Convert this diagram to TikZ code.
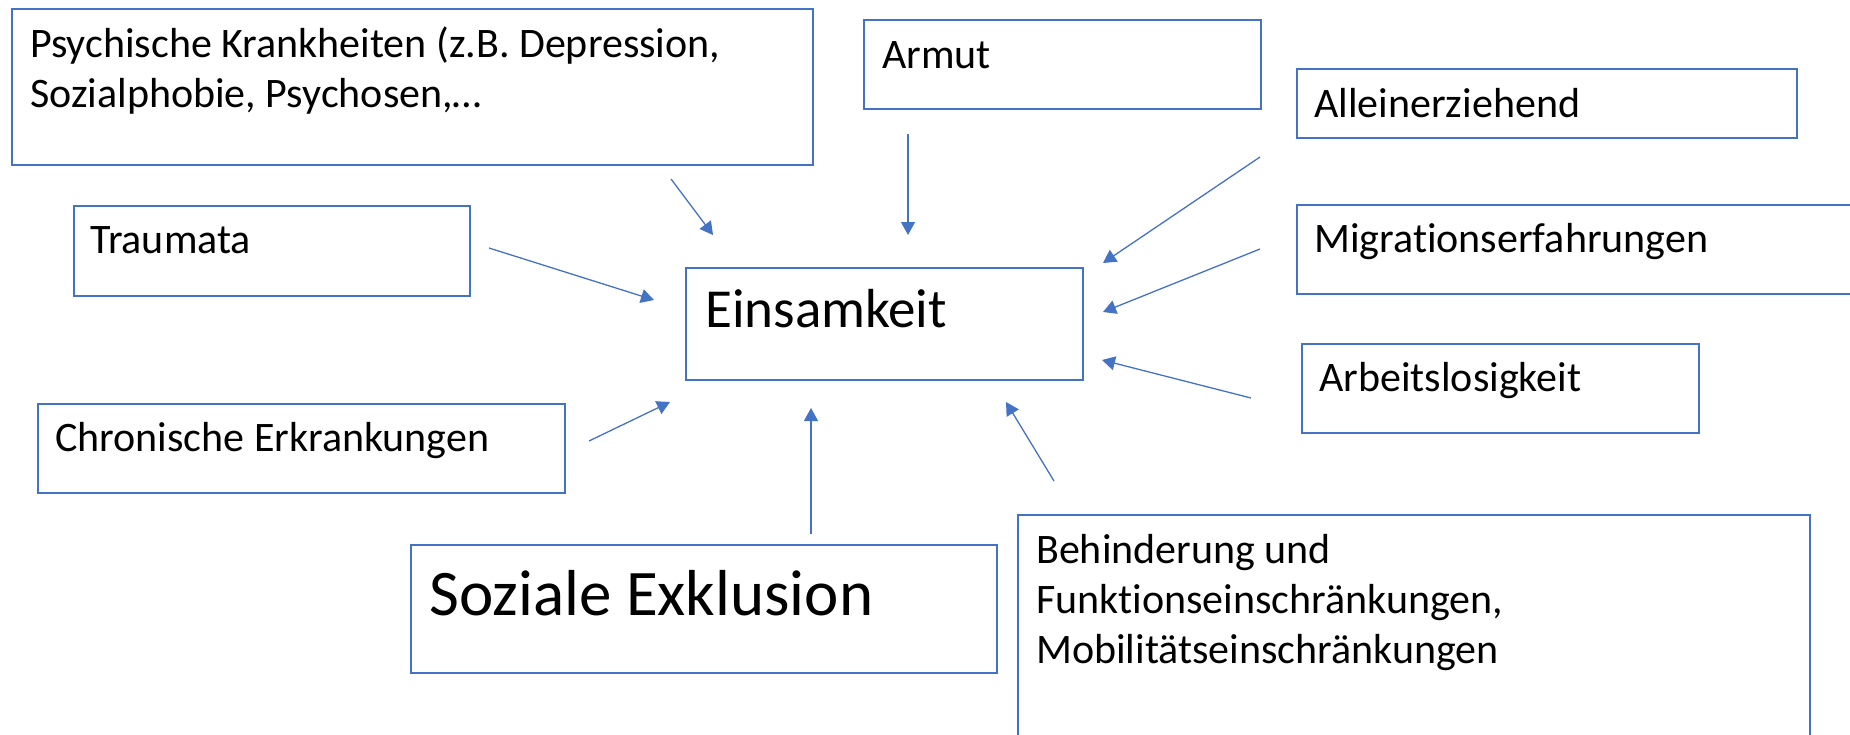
\documentclass[tikz,border=0pt]{standalone}
\usepackage{fontspec}
\setmainfont[Ligatures=NoCommon]{Carlito}
\usetikzlibrary{arrows.meta}
\definecolor{officeblue}{HTML}{4472C4}
\tikzset{
	box/.style={shape=rectangle,draw=officeblue,line width=2.2pt,anchor=north west,inner sep=0pt},
	txt/.style={anchor=base west,inner sep=0pt,align=left,font=\fontsize{42}{50}\selectfont},
	arr/.style={color=officeblue,line width=1.3pt,-{Triangle[length=13pt,width=14pt]}}
}
\begin{document}
\begin{tikzpicture}[x=1pt,y=-1pt]
	\useasboundingbox (0,0) rectangle (1850,734);
	\node[box,minimum width=801pt,minimum height=156pt] (P) at (11,8) {};
	\node[box,minimum width=397pt,minimum height=89pt] (A) at (863,19) {};
	\node[box,minimum width=500pt,minimum height=69pt] (L) at (1296,68) {};
	\node[box,minimum width=600pt,minimum height=89pt] (M) at (1296,204) {};
	\node[box,minimum width=396pt,minimum height=90pt] (T) at (73,205) {};
	\node[box,minimum width=397pt,minimum height=112pt] (E) at (685,267) {};
	\node[box,minimum width=397pt,minimum height=89pt] (R) at (1301,343) {};
	\node[box,minimum width=527pt,minimum height=89pt] (C) at (37,403) {};
	\node[box,minimum width=586pt,minimum height=128pt] (S) at (410,544) {};
	\node[box,minimum width=792pt,minimum height=260pt] (B) at (1017,514) {};
	\node[txt] (Pt) at (30,107) {Psychische Krankheiten (z.B. Depression,\\Sozialphobie, Psychosen,\dots};
	\node[txt] (At) at (882,68) {Armut};
	\node[txt] (Lt) at (1314,117) {Alleinerziehend};
	\node[txt] (Mt) at (1314,252) {Migrationserfahrungen};
	\node[txt] (Tt) at (90,253) {Traumata};
	\node[txt,font=\fontsize{55}{60}\selectfont] (Et) at (705,327) {Einsamkeit};
	\node[txt] (Rt) at (1319,391) {Arbeitslosigkeit};
	\node[txt] (Ct) at (55,451) {Chronische Erkrankungen};
	\node[txt,font=\fontsize{65}{70}\selectfont] (St) at (429,615) {Soziale Exklusion};
	\node[txt] (Bt) at (1036,663) {Behinderung und\\Funktionseinschränkungen,\\Mobilitätseinschränkungen};
	\coordinate (p1) at (671,179);
	\coordinate (p2) at (713,235);
	\coordinate (a1) at (908,134);
	\coordinate (a2) at (908,235);
	\coordinate (l1) at (1260,157);
	\coordinate (l2) at (1103,263);
	\coordinate (m1) at (1260,249);
	\coordinate (m2) at (1103,312);
	\coordinate (r1) at (1251,398);
	\coordinate (r2) at (1102,360);
	\coordinate (b1) at (1054,481);
	\coordinate (b2) at (1006,402);
	\coordinate (s1) at (811,534);
	\coordinate (s2) at (811,408);
	\coordinate (c1) at (589,441);
	\coordinate (c2) at (670,402);
	\coordinate (t1) at (489,248);
	\coordinate (t2) at (654,300);
	\draw [arr] (p1) -- (p2);
	\draw [arr] (a1) -- (a2);
	\draw [arr] (l1) -- (l2);
	\draw [arr] (m1) -- (m2);
	\draw [arr] (r1) -- (r2);
	\draw [arr] (b1) -- (b2);
	\draw [arr] (s1) -- (s2);
	\draw [arr] (c1) -- (c2);
	\draw [arr] (t1) -- (t2);
\end{tikzpicture}
\end{document}
